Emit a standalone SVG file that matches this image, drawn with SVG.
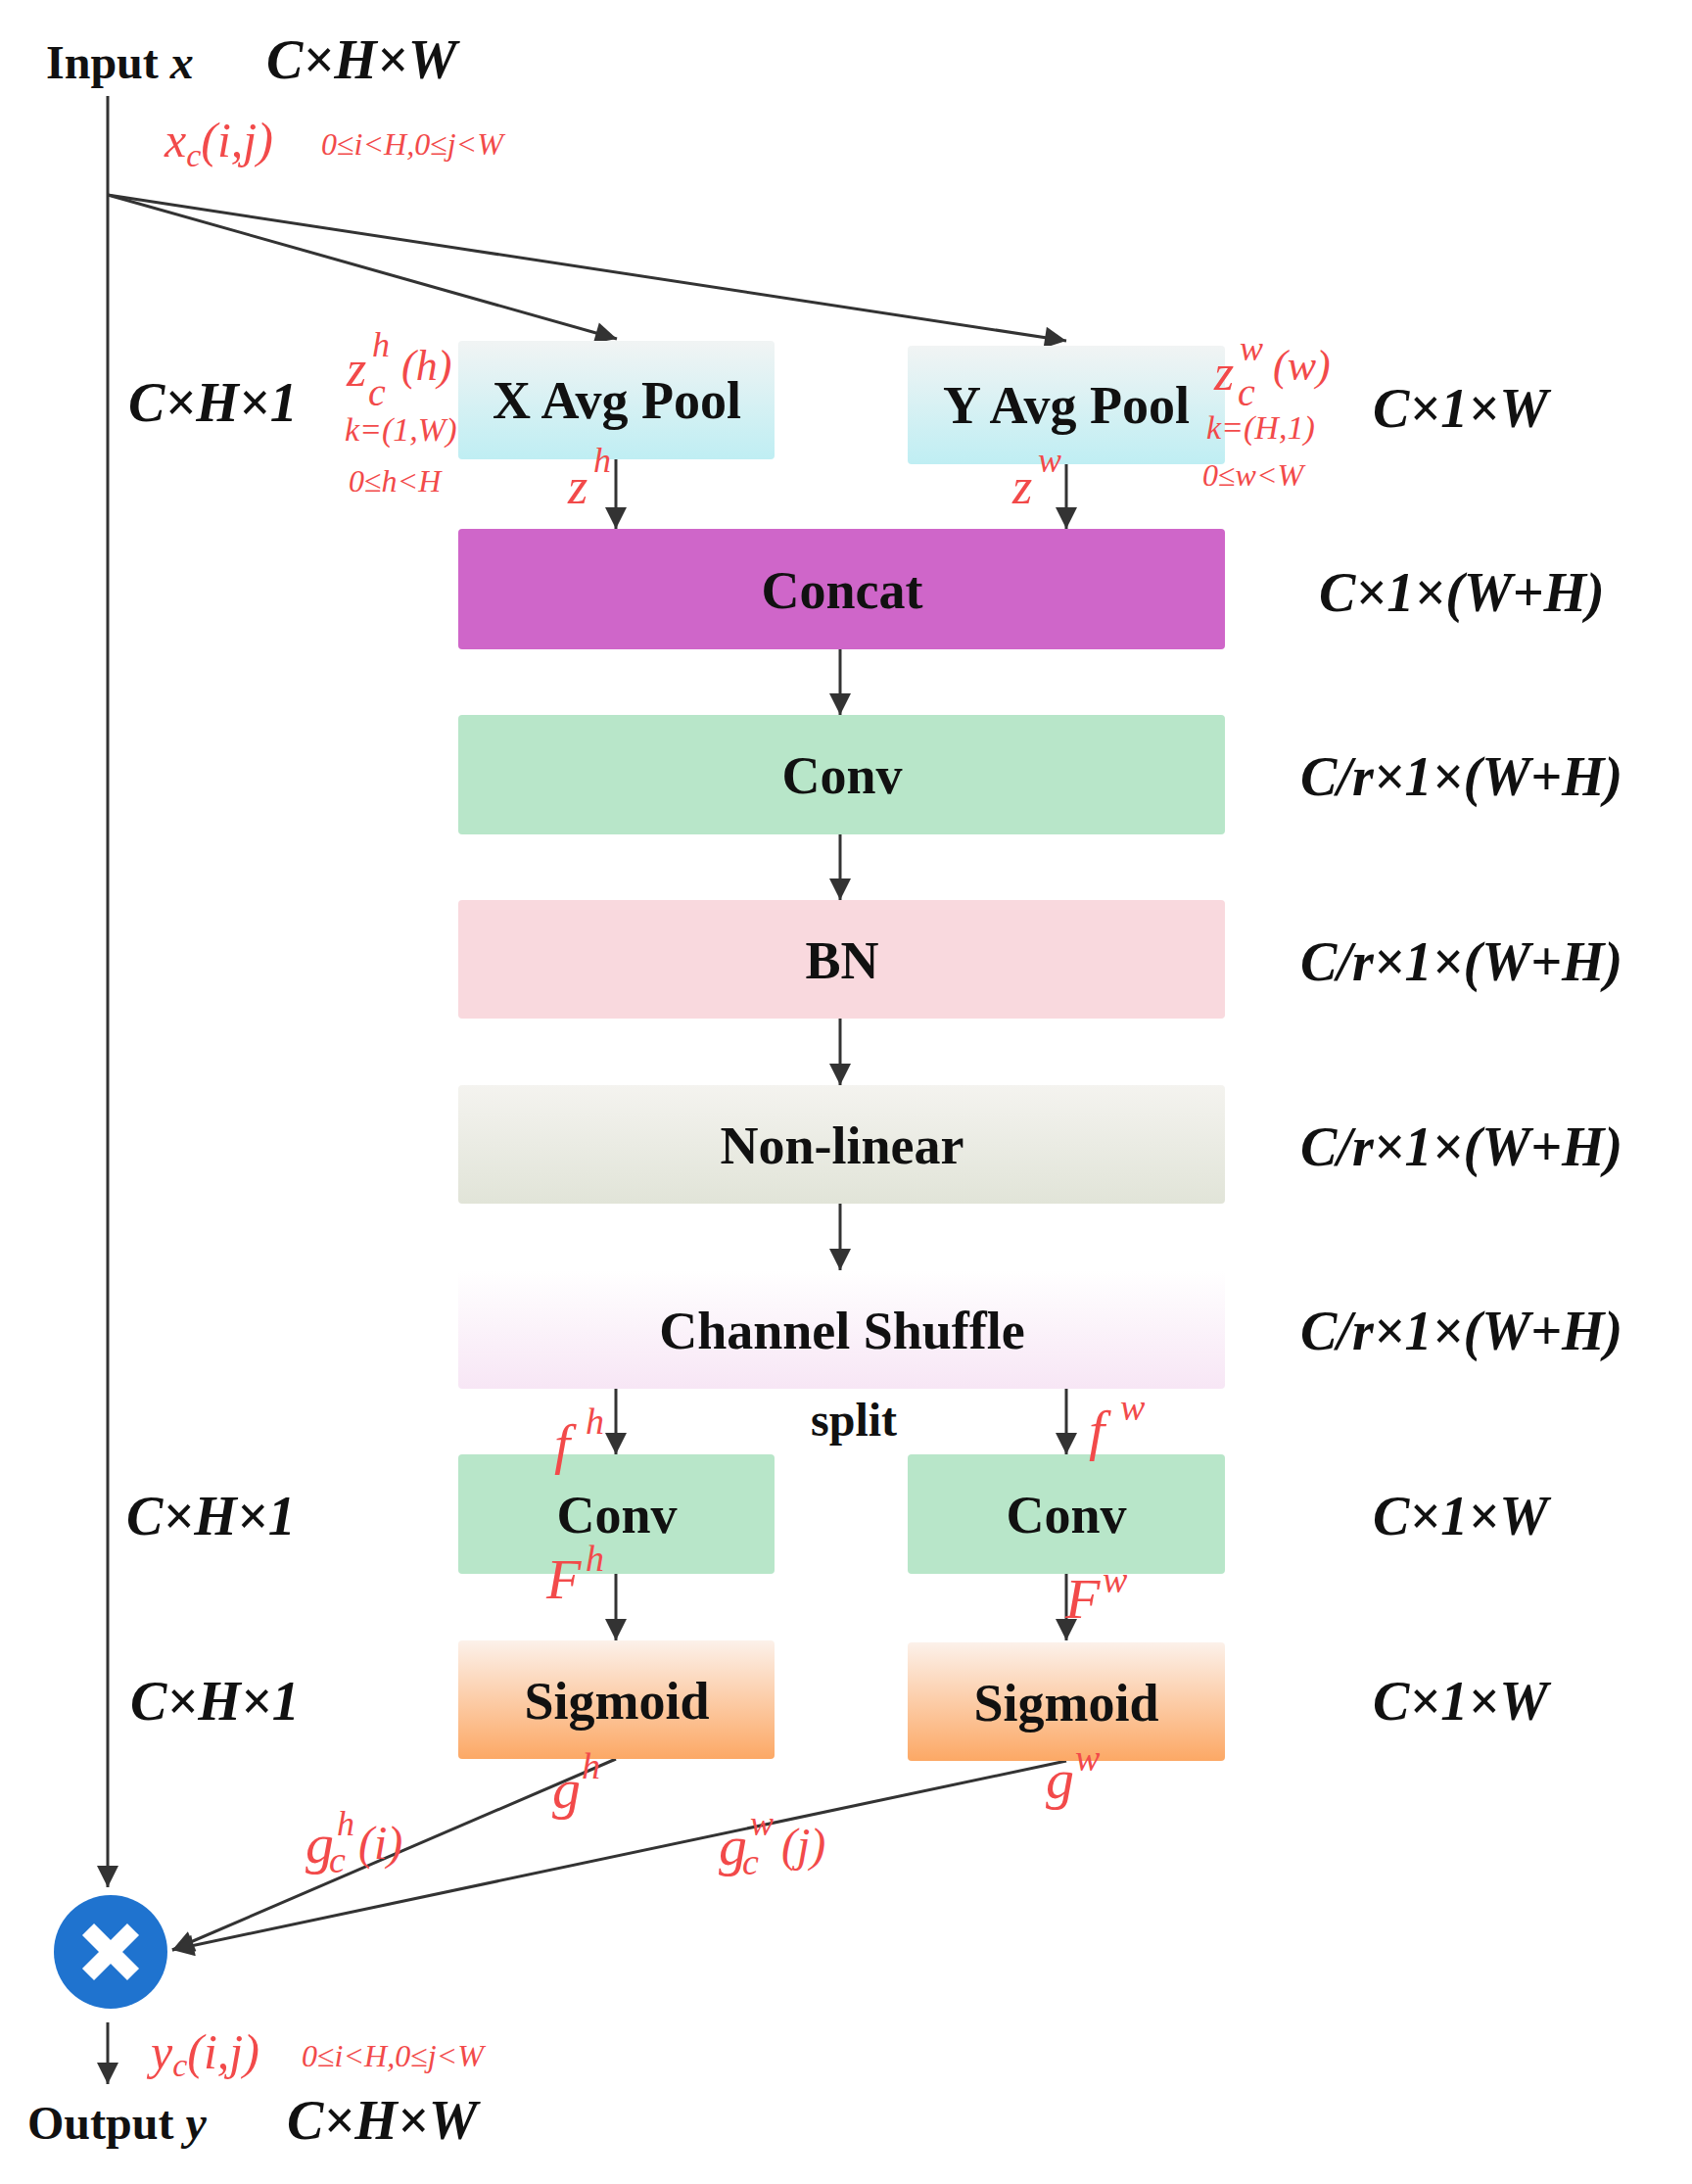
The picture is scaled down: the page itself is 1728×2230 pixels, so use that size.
<svg xmlns="http://www.w3.org/2000/svg" width="1728" height="2230" viewBox="0 0 1728 2230">
<style>
.box{font-family:"Liberation Serif",serif;font-weight:bold;font-size:54px;text-anchor:middle;fill:#111}
.dim{font-family:"Liberation Serif",serif;font-style:italic;font-weight:bold;font-size:56px;fill:#111}
.lbl{font-family:"Liberation Serif",serif;font-weight:bold;font-size:48px;fill:#111}
.r{font-family:"Liberation Serif",serif;font-style:italic;fill:#f24a4a}
.ln{stroke:#333;stroke-width:3;fill:none}
</style>
<defs>
<marker id="b" viewBox="0 0 10 10" refX="10" refY="5" markerWidth="28" markerHeight="22" markerUnits="userSpaceOnUse" orient="auto"><path d="M0,0 L10,5 L0,10 z" fill="#333"/></marker>
<linearGradient id="gp" x1="0" y1="0" x2="0" y2="1"><stop offset="0" stop-color="#f1f4f4"/><stop offset="1" stop-color="#bfeef3"/></linearGradient>
<linearGradient id="gn" x1="0" y1="0" x2="0" y2="1"><stop offset="0" stop-color="#f4f3ef"/><stop offset="1" stop-color="#e1e4d8"/></linearGradient>
<linearGradient id="gc" x1="0" y1="0" x2="0" y2="1"><stop offset="0" stop-color="#ffffff"/><stop offset="1" stop-color="#f7e6f5"/></linearGradient>
<linearGradient id="gs" x1="0" y1="0" x2="0" y2="1"><stop offset="0" stop-color="#fcf1ea"/><stop offset="1" stop-color="#fca865"/></linearGradient>
</defs>
<rect width="1728" height="2230" fill="#fff"/>
<g id="connectors">
<line class="ln" x1="110" y1="98" x2="110" y2="1927" marker-end="url(#b)"/>
<line class="ln" x1="110" y1="199" x2="630" y2="346" marker-end="url(#b)"/>
<line class="ln" x1="110" y1="199" x2="1089" y2="348" marker-end="url(#b)"/>
<line class="ln" x1="629" y1="469" x2="629" y2="540" marker-end="url(#b)"/>
<line class="ln" x1="1089" y1="474" x2="1089" y2="540" marker-end="url(#b)"/>
<line class="ln" x1="858" y1="663" x2="858" y2="730" marker-end="url(#b)"/>
<line class="ln" x1="858" y1="852" x2="858" y2="919" marker-end="url(#b)"/>
<line class="ln" x1="858" y1="1040" x2="858" y2="1108" marker-end="url(#b)"/>
<line class="ln" x1="858" y1="1229" x2="858" y2="1297" marker-end="url(#b)"/>
<line class="ln" x1="629" y1="1418" x2="629" y2="1485" marker-end="url(#b)"/>
<line class="ln" x1="1089" y1="1418" x2="1089" y2="1485" marker-end="url(#b)"/>
<line class="ln" x1="629" y1="1607" x2="629" y2="1675" marker-end="url(#b)"/>
<line class="ln" x1="1089" y1="1607" x2="1089" y2="1675" marker-end="url(#b)"/>
<line class="ln" x1="629" y1="1796" x2="176" y2="1991" marker-end="url(#b)"/>
<line class="ln" x1="1089" y1="1798" x2="176" y2="1991" marker-end="url(#b)"/>
<line class="ln" x1="110" y1="2065" x2="110" y2="2128" marker-end="url(#b)"/>
</g>
<g id="input"><text class="lbl" x="47" y="80">Input <tspan font-style="italic">x</tspan></text><text class="dim" x="272" y="80">C×H×W</text></g>
<g id="xpool"><rect x="468" y="348" width="323" height="121" rx="4" fill="url(#gp)"/><text class="box" x="630" y="427">X Avg Pool</text></g>
<g id="ypool"><rect x="927" y="353" width="324" height="121" rx="4" fill="url(#gp)"/><text class="box" x="1089" y="432">Y Avg Pool</text></g>
<g id="concat"><rect x="468" y="540" width="783" height="123" rx="4" fill="#cf66c9"/><text class="box" x="860" y="621">Concat</text></g>
<g id="conv"><rect x="468" y="730" width="783" height="122" rx="4" fill="#b8e6c9"/><text class="box" x="860" y="810">Conv</text></g>
<g id="bn"><rect x="468" y="919" width="783" height="121" rx="4" fill="#f9d9de"/><text class="box" x="860" y="999">BN</text></g>
<g id="nonlinear"><rect x="468" y="1108" width="783" height="121" rx="4" fill="url(#gn)"/><text class="box" x="860" y="1188">Non-linear</text></g>
<g id="shuffle"><rect x="468" y="1297" width="783" height="121" rx="4" fill="url(#gc)"/><text class="box" x="860" y="1377">Channel Shuffle</text></g>
<g id="convh"><rect x="468" y="1485" width="323" height="122" rx="4" fill="#b8e6c9"/><text class="box" x="630" y="1565">Conv</text></g>
<g id="convw"><rect x="927" y="1485" width="324" height="122" rx="4" fill="#b8e6c9"/><text class="box" x="1089" y="1565">Conv</text></g>
<g id="sigh"><rect x="468" y="1675" width="323" height="121" rx="4" fill="url(#gs)"/><text class="box" x="630" y="1755">Sigmoid</text></g>
<g id="sigw"><rect x="927" y="1677" width="324" height="121" rx="4" fill="url(#gs)"/><text class="box" x="1089" y="1757">Sigmoid</text></g>
<g id="mult"><circle cx="113" cy="1993" r="58" fill="#1f73cf"/><path d="M90,1970 L136,2016 M136,1970 L90,2016" stroke="#fff" stroke-width="17"/></g>
<g id="output"><text class="lbl" x="28" y="2184">Output <tspan font-style="italic">y</tspan></text><text class="dim" x="293" y="2184">C×H×W</text></g>
<g id="dims">
<text class="dim" x="131" y="430">C×H×1</text>
<text class="dim" x="1402" y="436">C×1×W</text>
<text class="dim" x="1347" y="624">C×1×(W+H)</text>
<text class="dim" x="1328" y="812">C/r×1×(W+H)</text>
<text class="dim" x="1328" y="1001">C/r×1×(W+H)</text>
<text class="dim" x="1328" y="1190">C/r×1×(W+H)</text>
<text class="dim" x="1328" y="1378">C/r×1×(W+H)</text>
<text class="dim" x="129" y="1567">C×H×1</text>
<text class="dim" x="1402" y="1567">C×1×W</text>
<text class="dim" x="133" y="1756">C×H×1</text>
<text class="dim" x="1402" y="1756">C×1×W</text>
<text class="lbl" x="828" y="1466" font-size="46">split</text>
</g>
<g id="redlabels">
<text class="r" x="168" y="160" font-size="50">x<tspan font-size="34" dy="10">c</tspan><tspan dy="-10">(i,j)</tspan></text>
<text class="r" x="328" y="158" font-size="32">0≤i&lt;H,0≤j&lt;W</text>
<text class="r" x="354" y="394" font-size="52">z</text><text class="r" x="380" y="364" font-size="36">h</text><text class="r" x="376" y="414" font-size="40">c</text><text class="r" x="410" y="388" font-size="44">(h)</text>
<text class="r" x="352" y="450" font-size="34">k=(1,W)</text>
<text class="r" x="356" y="502" font-size="32">0≤h&lt;H</text>
<text class="r" x="580" y="514" font-size="52">z</text><text class="r" x="606" y="482" font-size="36">h</text>
<text class="r" x="1240" y="398" font-size="52">z</text><text class="r" x="1266" y="368" font-size="36">w</text><text class="r" x="1264" y="414" font-size="40">c</text><text class="r" x="1300" y="388" font-size="44">(w)</text>
<text class="r" x="1232" y="448" font-size="34">k=(H,1)</text>
<text class="r" x="1228" y="496" font-size="32">0≤w&lt;W</text>
<text class="r" x="1034" y="514" font-size="52">z</text><text class="r" x="1060" y="482" font-size="36">w</text>
<text class="r" x="566" y="1494" font-size="58">f</text><text class="r" x="598" y="1464" font-size="38">h</text>
<text class="r" x="1112" y="1480" font-size="58">f</text><text class="r" x="1144" y="1450" font-size="38">w</text>
<text class="r" x="558" y="1632" font-size="58">F</text><text class="r" x="598" y="1604" font-size="38">h</text>
<text class="r" x="1088" y="1652" font-size="58">F</text><text class="r" x="1126" y="1626" font-size="38">w</text>
<text class="r" x="564" y="1846" font-size="58">g</text><text class="r" x="594" y="1816" font-size="38">h</text>
<text class="r" x="1068" y="1836" font-size="58">g</text><text class="r" x="1098" y="1808" font-size="38">w</text>
<text class="r" x="312" y="1902" font-size="58">g</text><text class="r" x="344" y="1874" font-size="36">h</text><text class="r" x="336" y="1912" font-size="38">c</text><text class="r" x="366" y="1898" font-size="48">(i)</text>
<text class="r" x="734" y="1904" font-size="58">g</text><text class="r" x="766" y="1874" font-size="36">w</text><text class="r" x="758" y="1914" font-size="38">c</text><text class="r" x="798" y="1900" font-size="48">(j)</text>
<text class="r" x="154" y="2112" font-size="50">y<tspan font-size="34" dy="8">c</tspan><tspan dy="-8">(i,j)</tspan></text>
<text class="r" x="308" y="2110" font-size="32">0≤i&lt;H,0≤j&lt;W</text>
</g>
</svg>
